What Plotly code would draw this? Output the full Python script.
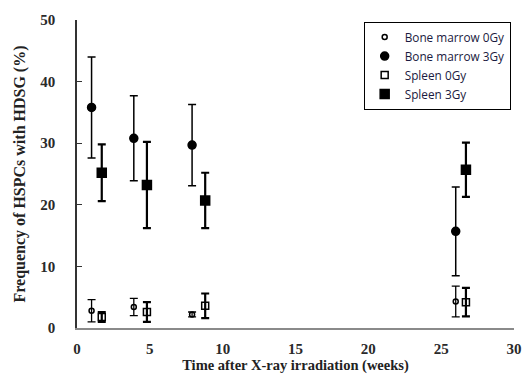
import plotly.graph_objects as go

series_names = ["Bone marrow 0Gy", "Bone marrow 3Gy", "Spleen 0Gy", "Spleen 3Gy"]

bm_x = [1.0, 3.9, 7.9, 26.0]
sp_x = [1.7, 4.8, 8.8, 26.7]

bm0_y = [2.8, 3.4, 2.2, 4.3]
bm0_err = [1.8, 1.4, 0.4, 2.5]
bm3_y = [35.8, 30.8, 29.7, 15.7]
bm3_err = [8.2, 6.9, 6.6, 7.2]
sp0_y = [1.8, 2.6, 3.6, 4.2]
sp0_err = [0.8, 1.6, 2.0, 2.3]
sp3_y = [25.2, 23.2, 20.7, 25.7]
sp3_err = [4.6, 7.0, 4.5, 4.4]

x_ticks = [0, 5, 10, 15, 20, 25, 30]
y_ticks = [0, 10, 20, 30, 40, 50]

fig = go.Figure()

def add(name, x, y, err, symbol, size, thick):
    fig.add_trace(go.Scatter(
        x=x, y=y, mode="markers", name=name,
        marker=dict(symbol=symbol, size=size, color="black",
                    line=dict(color="black", width=1.5)),
        error_y=dict(type="data", array=err, visible=True,
                     color="black", thickness=thick, width=4),
    ))

add(series_names[0], bm_x, bm0_y, bm0_err, "circle-open", 5, 1.3)
add(series_names[1], bm_x, bm3_y, bm3_err, "circle", 8, 1.5)
add(series_names[2], sp_x, sp0_y, sp0_err, "square-open", 7, 2.2)
add(series_names[3], sp_x, sp3_y, sp3_err, "square", 9, 2.2)

tick_font = dict(family="Liberation Serif", size=15, color="#2a2a2a", weight="bold")

fig.update_layout(
    width=524, height=379,
    margin=dict(l=77, r=10, t=20, b=51),
    plot_bgcolor="white", paper_bgcolor="white",
    showlegend=True,
    legend=dict(x=0.656, y=0.995, xanchor="left", yanchor="top",
                bordercolor="black", borderwidth=1, bgcolor="white",
                font=dict(family="Open Sans, Liberation Sans", size=11.8, color="#1a1a40"),
                itemwidth=30),
    xaxis=dict(range=[0, 30], tickvals=x_ticks, showgrid=False, zeroline=False,
               showline=True, linecolor="#8a8a8a", linewidth=2,
               ticks="", tickfont=tick_font, automargin=False,
               ticklabeloverflow="allow", ticklabelstandoff=6,
               title=dict(text="Time after X-ray irradiation (weeks)",
                          font=dict(family="Liberation Serif", size=14.5, color="#222", weight="bold"),
                          standoff=4)),
    yaxis=dict(range=[0, 50], tickvals=y_ticks, showgrid=False, zeroline=False,
               showline=True, linecolor="#333", linewidth=1.5,
               ticks="inside", ticklen=5, tickcolor="#333",
               tickfont=tick_font, automargin=False,
               ticklabeloverflow="allow", ticklabelstandoff=17,
               title=dict(text="Frequency of HSPCs with HDSG (%)",
                          font=dict(family="Liberation Serif", size=16, color="#222", weight="bold"),
                          standoff=11)),
)

fig.write_html("out.html", config={"displayModeBar": False},
               post_script="document.body.style.margin='0';document.body.style.overflow='hidden';")
